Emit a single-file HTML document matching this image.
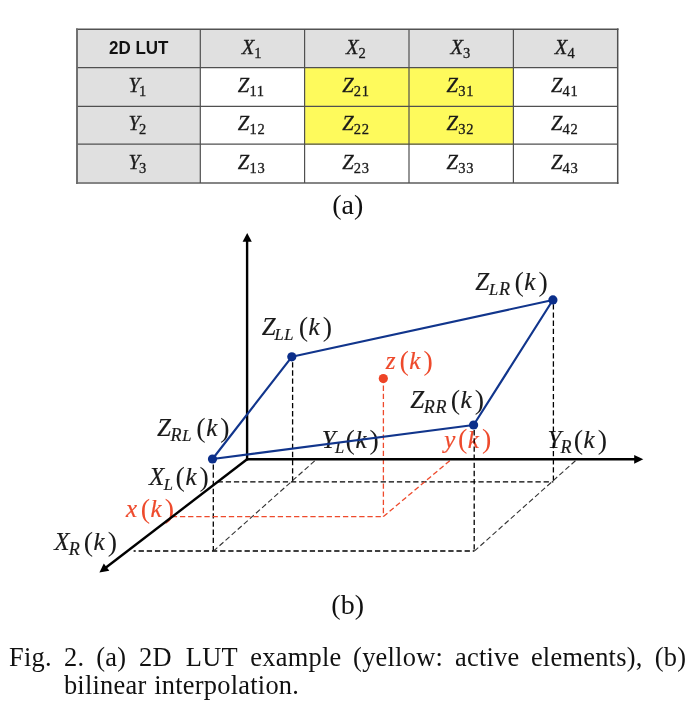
<!DOCTYPE html>
<html><head><meta charset="utf-8">
<style>
html,body{margin:0;padding:0;background:#fff;}
body{width:700px;height:716px;position:relative;overflow:hidden;font-family:"Liberation Serif",serif;color:#000;}
svg{position:absolute;left:0;top:0;}
.m{font-family:"Liberation Serif",serif;font-style:italic;font-size:20.5px;fill:#1a1a1a;stroke:#1a1a1a;stroke-width:0.3px;}
.s{font-size:14.5px;font-style:normal;letter-spacing:0.75px;}
.h{font-family:"Liberation Sans",sans-serif;font-weight:bold;font-size:18px;fill:#111;}
.lab{font-family:"Liberation Serif",serif;font-size:28px;fill:#111;}
.d{font-family:"Liberation Serif",serif;font-style:italic;font-size:25px;fill:#1a1a1a;stroke:#1a1a1a;stroke-width:0.2px;}
.p{font-style:normal;font-size:28px;stroke-width:0;}
.ds{font-size:16.5px;letter-spacing:0.8px;}
.dr{font-size:18px;}
.up{font-style:normal;}
.r{fill:#ee4a2c;stroke:#ee4a2c;}
.cap{font-family:"Liberation Serif",serif;font-size:26.4px;fill:#111;letter-spacing:0.25px;}
</style></head><body>
<svg width="700" height="716" viewBox="0 0 700 716">
<!-- table fills -->
<rect x="77" y="29" width="541" height="39" fill="#e0e0e0"/>
<rect x="77" y="29" width="123" height="154" fill="#e0e0e0"/>
<rect x="305" y="68" width="208" height="77" fill="#fefa5c"/>
<g stroke="#505050" stroke-width="1.2" fill="none">
<path d="M76 29.2H618.5" stroke="#525252" stroke-width="1.6"/>
<path d="M77 67.6H618M77 106.3H618M77 144.2H618"/>
<path d="M76 182.9H618.5" stroke="#858585" stroke-width="2"/>
<path d="M77 28.4V183.9" stroke="#6a6a6a" stroke-width="1.9"/>
<path d="M200.3 29V183M304.6 29V183M409 29V183M513.4 29V183"/>
<path d="M617.7 28.4V183.9" stroke-width="1.5"/>
</g>
<text class="h" x="109" y="53.6" textLength="59.4" lengthAdjust="spacingAndGlyphs">2D LUT</text>
<text class="m"><tspan x="241.7" y="53.6">X</tspan><tspan class="s" x="254.3" y="57.7">1</tspan></text>
<text class="m"><tspan x="346.1" y="53.6">X</tspan><tspan class="s" x="358.6" y="57.7">2</tspan></text>
<text class="m"><tspan x="450.4" y="53.6">X</tspan><tspan class="s" x="463.0" y="57.7">3</tspan></text>
<text class="m"><tspan x="554.8" y="53.6">X</tspan><tspan class="s" x="567.4" y="57.7">4</tspan></text>
<text class="m"><tspan x="128.4" y="91.7">Y</tspan><tspan class="s" x="139.0" y="95.8">1</tspan></text>
<text class="m"><tspan x="237.8" y="91.7">Z</tspan><tspan class="s" x="249.4" y="95.8">11</tspan></text>
<text class="m"><tspan x="342.2" y="91.7">Z</tspan><tspan class="s" x="353.8" y="95.8">21</tspan></text>
<text class="m"><tspan x="446.6" y="91.7">Z</tspan><tspan class="s" x="458.2" y="95.8">31</tspan></text>
<text class="m"><tspan x="550.9" y="91.7">Z</tspan><tspan class="s" x="562.5" y="95.8">41</tspan></text>
<text class="m"><tspan x="128.4" y="130.3">Y</tspan><tspan class="s" x="139.0" y="134.4">2</tspan></text>
<text class="m"><tspan x="237.8" y="130.3">Z</tspan><tspan class="s" x="249.4" y="134.4">12</tspan></text>
<text class="m"><tspan x="342.2" y="130.3">Z</tspan><tspan class="s" x="353.8" y="134.4">22</tspan></text>
<text class="m"><tspan x="446.6" y="130.3">Z</tspan><tspan class="s" x="458.2" y="134.4">32</tspan></text>
<text class="m"><tspan x="550.9" y="130.3">Z</tspan><tspan class="s" x="562.5" y="134.4">42</tspan></text>
<text class="m"><tspan x="128.4" y="168.6">Y</tspan><tspan class="s" x="139.0" y="172.7">3</tspan></text>
<text class="m"><tspan x="237.8" y="168.6">Z</tspan><tspan class="s" x="249.4" y="172.7">13</tspan></text>
<text class="m"><tspan x="342.2" y="168.6">Z</tspan><tspan class="s" x="353.8" y="172.7">23</tspan></text>
<text class="m"><tspan x="446.6" y="168.6">Z</tspan><tspan class="s" x="458.2" y="172.7">33</tspan></text>
<text class="m"><tspan x="550.9" y="168.6">Z</tspan><tspan class="s" x="562.5" y="172.7">43</tspan></text>
<g text-anchor="middle">
<text class="lab" x="347.7" y="213.6">(a)</text>
<text class="lab" x="347.7" y="613.8">(b)</text>
</g>
<!-- diagram -->
<g id="labels">
<text class="d"><tspan x="261.7" y="335.0">Z</tspan><tspan class="ds" x="274.4" y="339.7">LL</tspan><tspan class="p" x="298.7" y="335.7">(</tspan><tspan x="308.5" y="335.0">k</tspan><tspan class="p" x="322.7" y="335.7">)</tspan></text>
<text class="d"><tspan x="475.3" y="290.0">Z</tspan><tspan class="ds" x="488.9" y="295.0">L<tspan class="dr">R</tspan></tspan><tspan class="p" x="514.4" y="290.7">(</tspan><tspan x="524.2" y="290.0">k</tspan><tspan class="p" x="538.4" y="290.7">)</tspan></text>
<text class="d"><tspan x="410.3" y="407.9">Z</tspan><tspan class="ds" x="423.7" y="412.6"><tspan class="dr">R</tspan><tspan class="dr">R</tspan></tspan><tspan class="p" x="450.8" y="408.6">(</tspan><tspan x="460.6" y="407.9">k</tspan><tspan class="p" x="474.8" y="408.6">)</tspan></text>
<text class="d"><tspan x="157.1" y="436.4">Z</tspan><tspan class="ds" x="170.5" y="441.4"><tspan class="dr">R</tspan>L</tspan><tspan class="p" x="196.3" y="437.1">(</tspan><tspan x="206.2" y="436.4">k</tspan><tspan class="p" x="220.3" y="437.1">)</tspan></text>
<text class="d"><tspan x="149.0" y="485.0">X</tspan><tspan class="ds" x="163.7" y="489.7">L</tspan><tspan class="p" x="175.6" y="485.7">(</tspan><tspan x="185.5" y="485.0">k</tspan><tspan class="p" x="199.6" y="485.7">)</tspan></text>
<text class="d"><tspan x="54.3" y="550.0">X</tspan><tspan class="ds" x="68.7" y="554.7"><tspan class="dr">R</tspan></tspan><tspan class="p" x="83.7" y="550.7">(</tspan><tspan x="93.6" y="550.0">k</tspan><tspan class="p" x="107.7" y="550.7">)</tspan></text>
<text class="d"><tspan x="321.7" y="448.3">Y</tspan><tspan class="ds" x="335.1" y="453.1">L</tspan><tspan class="p" x="345.6" y="449.0">(</tspan><tspan x="355.4" y="448.3">k</tspan><tspan class="p" x="369.6" y="449.0">)</tspan></text>
<text class="d"><tspan x="547.4" y="448.3">Y</tspan><tspan class="ds" x="560.5" y="453.1"><tspan class="dr">R</tspan></tspan><tspan class="p" x="573.7" y="449.0">(</tspan><tspan x="583.5" y="448.3">k</tspan><tspan class="p" x="597.7" y="449.0">)</tspan></text>
<text class="d r"><tspan x="126.0" y="517.1">x</tspan><tspan class="p" x="140.7" y="517.8">(</tspan><tspan x="150.6" y="517.1">k</tspan><tspan class="p" x="164.7" y="517.8">)</tspan></text>
<text class="d r"><tspan x="444.2" y="447.6">y</tspan><tspan class="p" x="458.0" y="448.3">(</tspan><tspan x="467.8" y="447.6">k</tspan><tspan class="p" x="482.0" y="448.3">)</tspan></text>
<text class="d r"><tspan x="385.7" y="369.0">z</tspan><tspan class="p" x="399.4" y="369.7">(</tspan><tspan x="409.2" y="369.0">k</tspan><tspan class="p" x="423.4" y="369.7">)</tspan></text>
</g>
<g stroke="#000" stroke-width="1.3" fill="none" stroke-dasharray="5.3 2.85">
<path d="M292.6 362.2V481.8"/>
<path d="M213.3 464.4V551"/>
<path d="M217.6 481.8H553.4"/>
<path d="M133.6 551H135.7M138.6 551H474.3"/>
<path d="M553.4 304.3V481.8"/>
<path d="M474.2 430.1V551"/>
</g>
<g stroke="#333" stroke-width="1.1" fill="none" stroke-dasharray="5.3 2.85">
<path d="M213.4 551.2L316 459.7"/>
<path d="M474.3 551.2L576.6 459.7"/>
</g>
<g stroke="#ee4a2c" stroke-width="1.3" fill="none" stroke-dasharray="5.3 2.85">
<path d="M383.4 385.6V516.6"/>
<path d="M171.8 516.6H383.4"/>
<path d="M383.4 516.6L450.6 460"/>
</g>
<g stroke="#000" stroke-width="2.4" fill="none">
<path d="M247.1 460.5V240"/>
<path d="M245.9 459.3H636"/>
<path d="M247.1 459.3L105 568.3"/>
</g>
<g fill="#000">
<path d="M247.2 233L251.8 241.8H242.6Z"/>
<path d="M643.3 459.3L634.2 454.9V463.7Z"/>
<path d="M99.4 572.6L103.8 563.6L109.3 570.7Z"/>
</g>
<g stroke="#11358c" stroke-width="2.15" fill="none" stroke-linejoin="round">
<path d="M212.5 459L291.8 356.8L552.9 300L473.6 425Z"/>
</g>
<g fill="#0b2e8a">
<circle cx="212.5" cy="459" r="4.6"/>
<circle cx="291.8" cy="356.8" r="4.6"/>
<circle cx="552.9" cy="299.9" r="4.6"/>
<circle cx="473.6" cy="425" r="4.6"/>
</g>
<circle cx="383.3" cy="378.6" r="4.6" fill="#ee4426"/>
<text class="cap" y="665.7"><tspan x="9.0">Fig.</tspan> <tspan x="64.1">2.</tspan> <tspan x="96.2">(a)</tspan> <tspan x="139.0">2D</tspan> <tspan x="185.8">LUT</tspan> <tspan x="250.3">example</tspan> <tspan x="353.1">(yellow:</tspan> <tspan x="455.0">active</tspan> <tspan x="530.9">elements),</tspan> <tspan x="654.7">(b)</tspan></text>
<text class="cap" y="693.7"><tspan x="63.9">bilinear</tspan> <tspan x="154.2">interpolation.</tspan></text>
</svg>
</body></html>
